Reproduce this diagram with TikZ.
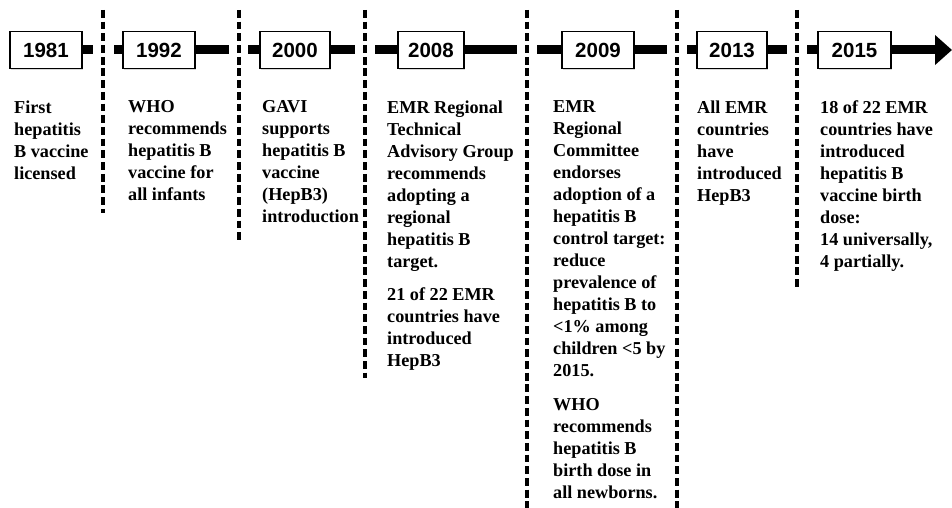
\documentclass[tikz,border=0pt]{standalone}
\usepackage{fontspec}
\setmainfont{Liberation Serif}
\newfontfamily\yearfont{Liberation Sans}
\usetikzlibrary{arrows.meta,shadows}
\begin{document}
\begin{tikzpicture}[x=1bp,y=-1bp,
  yearbox/.style={draw=black, line width=1.3bp, fill=white, inner sep=0pt,
    minimum height=37bp, font=\yearfont\bfseries\fontsize{20.5bp}{24bp}\selectfont,
    drop shadow={shadow xshift=1.3bp, shadow yshift=-1.3bp, opacity=0.3}},
  bar/.style={line width=9bp, draw=black},
  divider/.style={line width=3.3bp, dash pattern=on 7.8bp off 3.9bp, draw=black},
  evtext/.style={anchor=north west, inner sep=0pt, align=left,
    font=\bfseries\fontsize{18.2bp}{22bp}\selectfont}]
\useasboundingbox (0,0) rectangle (952,508);

% year boxes
\node[yearbox, minimum width=72bp] (y1981) at (46,50) {1981};
\node[yearbox, minimum width=72bp] (y1992) at (159,50) {1992};
\node[yearbox, minimum width=70bp] (y2000) at (295,50) {2000};
\node[yearbox, minimum width=66bp] (y2008) at (431,50) {2008};
\node[yearbox, minimum width=72bp] (y2009) at (598,50) {2009};
\node[yearbox, minimum width=70bp] (y2013) at (732,50) {2013};
\node[yearbox, minimum width=73bp] (y2015) at (854.5,50) {2015};

% bar gap coordinates
\coordinate (a1) at (93,50);  \coordinate (b1) at (114,50);
\coordinate (a2) at (229,50); \coordinate (b2) at (248,50);
\coordinate (a3) at (355,50); \coordinate (b3) at (375,50);
\coordinate (a4) at (517,50); \coordinate (b4) at (537,50);
\coordinate (a5) at (667,50); \coordinate (b5) at (687,50);
\coordinate (a6) at (787,50); \coordinate (b6) at (807,50);
\coordinate (tip) at (952,50);

% timeline bar segments
\draw[bar] (y1981.east) -- (a1);
\draw[bar] (b1) -- (y1992.west);
\draw[bar] (y1992.east) -- (a2);
\draw[bar] (b2) -- (y2000.west);
\draw[bar] (y2000.east) -- (a3);
\draw[bar] (b3) -- (y2008.west);
\draw[bar] (y2008.east) -- (a4);
\draw[bar] (b4) -- (y2009.west);
\draw[bar] (y2009.east) -- (a5);
\draw[bar] (b5) -- (y2013.west);
\draw[bar] (y2013.east) -- (a6);
\draw[bar] (b6) -- (y2015.west);
\draw[bar, -{Triangle[length=17bp, width=29bp]}] (y2015.east) -- (tip);

% dividers
\draw[divider] (103,10) -- (103,213);
\draw[divider] (239,10) -- (239,240);
\draw[divider] (365,10) -- (365,378);
\draw[divider] (527,10) -- (527,508);
\draw[divider] (677,10) -- (677,508);
\draw[divider] (797,10) -- (797,288);

% event texts
\node[evtext] (t1981) at (14,100.5) {First\\hepatitis\\B vaccine\\licensed};
\node[evtext] (t1992) at (128,100.5) {WHO\\recommends\\hepatitis B\\vaccine for\\all infants};
\node[evtext] (t2000) at (262,100.5) {GAVI\\supports\\hepatitis B\\vaccine\\(HepB3)\\introduction};
\node[evtext] (t2008) at (387,100.5) {EMR Regional\\Technical\\Advisory Group\\recommends\\adopting a\\regional\\hepatitis B\\target.\\[11.5bp]21 of 22 EMR\\countries have\\introduced\\HepB3};
\node[evtext] (t2009) at (553,100.5) {EMR\\Regional\\Committee\\endorses\\adoption of a\\hepatitis B\\control target:\\reduce\\prevalence of\\hepatitis B to\\<1\% among\\children <5 by\\2015.\\[11.5bp]WHO\\recommends\\hepatitis B\\birth dose in\\all newborns.};
\node[evtext] (t2013) at (697,100.5) {All EMR\\countries\\have\\introduced\\HepB3};
\node[evtext] (t2015) at (820,100.5) {18 of 22 EMR\\countries have\\introduced\\hepatitis B\\vaccine birth\\dose:\\14 universally,\\4 partially.};
\end{tikzpicture}
\end{document}
